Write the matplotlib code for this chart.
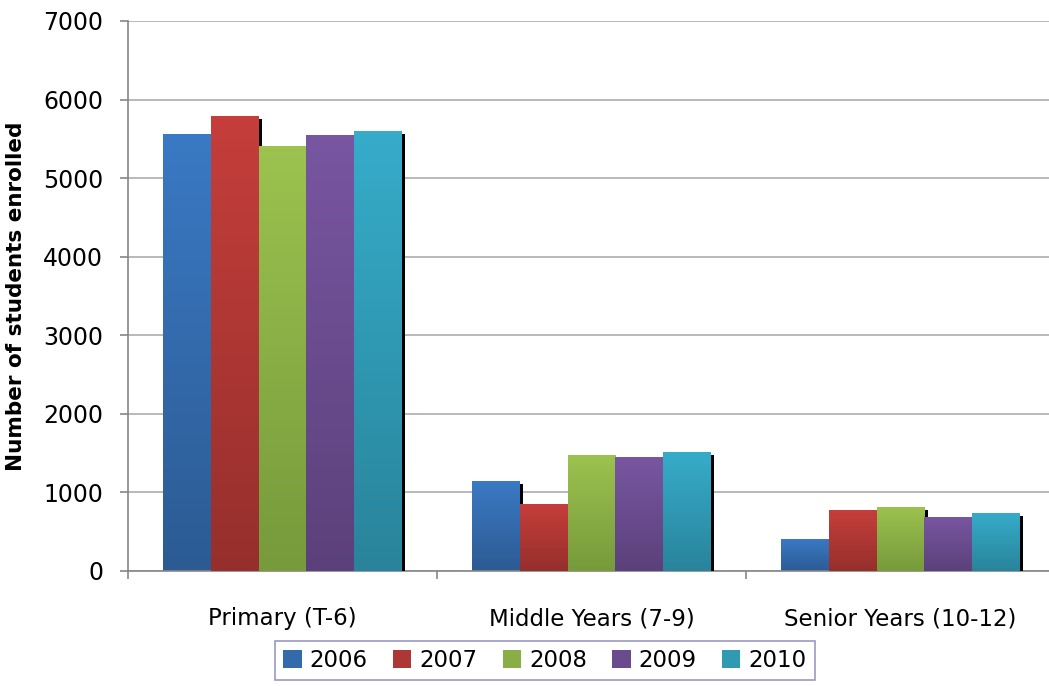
import matplotlib
matplotlib.use("Agg")
import matplotlib.pyplot as plt
import matplotlib.patheffects as pe
from matplotlib.colors import LinearSegmentedColormap
from matplotlib.patches import Patch
import numpy as np

categories = ["Primary (T-6)", "Middle Years (7-9)", "Senior Years (10-12)"]
years = ["2006", "2007", "2008", "2009", "2010"]
v2006 = [5560, 1145, 405]
v2007 = [5790, 850, 775]
v2008 = [5410, 1475, 815]
v2009 = [5550, 1450, 690]
v2010 = [5600, 1515, 740]
series = [v2006, v2007, v2008, v2009, v2010]

# top / bottom colours of the gradient fill
tops = ["#3a79c4", "#c53e3b", "#9cc24f", "#7856a1", "#36acca"]
bottoms = ["#2c5b93", "#962f2c", "#779a3b", "#5b417b", "#29849b"]
mids = ["#336aab", "#ad3734", "#8aae46", "#6a4c8e", "#309ab3"]

fig = plt.figure(figsize=(10.49, 6.86), dpi=100)
ax = fig.add_axes([128/1049, 115/686, 927/1049, 550/686])

x = np.arange(len(categories))
w = 0.155
off = (np.arange(len(years)) - 2) * w

for k, vals in enumerate(series):
    cmap = LinearSegmentedColormap.from_list("g%d" % k, [bottoms[k], tops[k]])
    bars = ax.bar(x + off[k], vals, w, color=tops[k], linewidth=0, zorder=2*k + 2,
                  path_effects=[pe.SimplePatchShadow(offset=(2.2, -2.2), shadow_rgbFace="black", alpha=1.0),
                                pe.Normal()])
    for b in bars:
        x0, y0 = b.get_x(), b.get_y()
        im = ax.imshow(np.linspace(0, 1, 100).reshape(-1, 1), cmap=cmap, origin="lower",
                       extent=[x0, x0 + b.get_width(), y0, y0 + b.get_height()],
                       aspect="auto", zorder=2*k + 2.5)
        im.set_clip_path(b)

ax.set_xlim(-0.5, 2.5)
ax.set_ylim(0, 7000)
ax.set_yticks(range(0, 7001, 1000))
ax.yaxis.grid(True, color="#a6a6a6", linewidth=1.1, zorder=0)
ax.set_axisbelow(True)

ax.set_xticks(x)
ax.set_xticklabels(categories, fontsize=16.5)
ax.set_xticks([-0.5, 0.5, 1.5, 2.5], minor=True)
ax.tick_params(axis="x", which="major", length=0, pad=26)
ax.tick_params(axis="x", which="minor", length=6, color="#868686", width=1.2)
ax.tick_params(axis="y", labelsize=17, length=6, color="#868686", width=1.2, pad=12)

for s in ["top", "right"]:
    ax.spines[s].set_visible(False)
for s in ["left", "bottom"]:
    ax.spines[s].set_color("#868686")
    ax.spines[s].set_linewidth(1.2)

ax.set_ylabel("Number of students enrolled", fontsize=15.5, fontweight="bold", labelpad=12)

proxies = [Patch(facecolor=c, edgecolor="none") for c in mids]
leg = fig.legend(proxies, years, loc="upper center",
                 bbox_to_anchor=(545/1049, 45/686), ncol=5, fontsize=16.5,
                 handlelength=0.8, handleheight=0.8, handletextpad=0.35,
                 columnspacing=1.1, frameon=True, fancybox=False, borderaxespad=0,
                 borderpad=0.35)
leg.get_frame().set_edgecolor("#8080b0")
leg.get_frame().set_linewidth(1.2)

fig.savefig("out.png", dpi=100)
